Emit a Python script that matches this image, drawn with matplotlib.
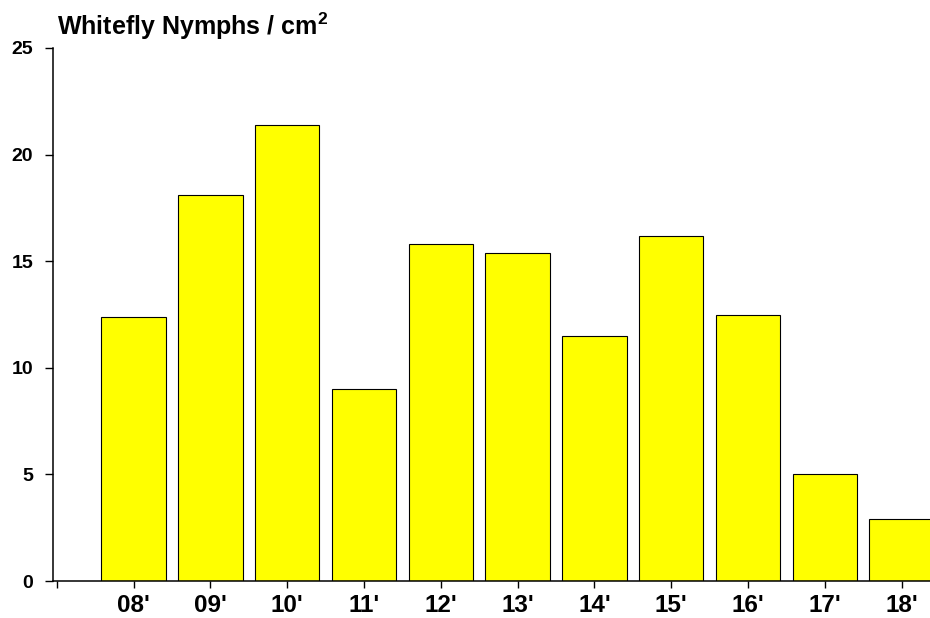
import matplotlib
matplotlib.use("Agg")
import matplotlib.pyplot as plt

plt.rcParams['font.family'] = ['Liberation Sans', 'DejaVu Sans']
plt.rcParams['mathtext.fontset'] = 'custom'
plt.rcParams['mathtext.rm'] = 'Liberation Sans:bold'
plt.rcParams['mathtext.bf'] = 'Liberation Sans:bold'

years = ["", "08'", "09'", "10'", "11'", "12'", "13'", "14'", "15'", "16'", "17'", "18'"]
nymphs = [12.4, 18.1, 21.4, 9.0, 15.8, 15.4, 11.5, 16.2, 12.5, 5.0, 2.9]
yticks = [0, 5, 10, 15, 20, 25]

fig = plt.figure(figsize=(9.3, 6.18), dpi=100)
ax = fig.add_axes([53/930, 1 - 581/618, 1 - 53/930, (581 - 48)/618])

pos = list(range(1, len(nymphs) + 1))
ax.bar(pos, nymphs, width=0.84, color='#ffff00', edgecolor='black', linewidth=0.8, zorder=2)

ax.set_xlim(-0.05, 11.37)
ax.set_ylim(0, 25)
ax.set_xticks(range(len(years)))
ax.set_xticklabels(years, fontsize=17.5, fontweight='bold')
ax.set_yticks(yticks)
ax.set_yticklabels([str(v) for v in yticks], fontsize=14, fontweight='bold')
ax.tick_params(axis='x', length=5, width=1, pad=4)
ax.tick_params(axis='y', length=5.8, width=1, pad=8.5)
for s in ['top', 'right']:
    ax.spines[s].set_visible(False)
for s in ['left', 'bottom']:
    ax.spines[s].set_linewidth(1.1)

fig.text(57/930, 1 - 35/618, r"Whitefly Nymphs / cm$^{2}$", fontsize=18, fontweight='bold',
         ha='left', va='baseline')

fig.savefig("out.png", dpi=100)
